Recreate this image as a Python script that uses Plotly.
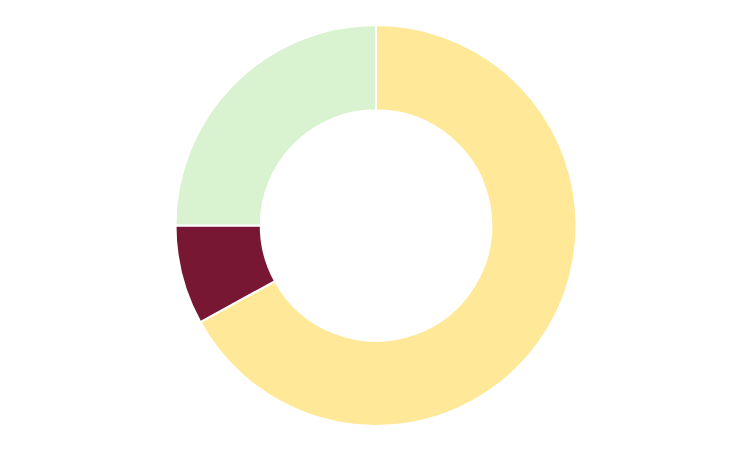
import plotly.graph_objects as go

labels = ["A", "B", "C"]
values = [67, 8, 25]
colors = ["#FFE999", "#771734", "#D9F2D0"]

fig = go.Figure(go.Pie(
    labels=labels,
    values=values,
    hole=0.575,
    sort=False,
    direction="clockwise",
    rotation=0,
    marker=dict(colors=colors, line=dict(color="#FFFFFF", width=2)),
    textinfo="none",
    hoverinfo="label+value",
))
fig.update_layout(
    width=752, height=452,
    margin=dict(l=0, r=16, t=17, b=34),
    showlegend=False,
    paper_bgcolor="white",
    plot_bgcolor="white",
)
fig.write_html("out.html")
